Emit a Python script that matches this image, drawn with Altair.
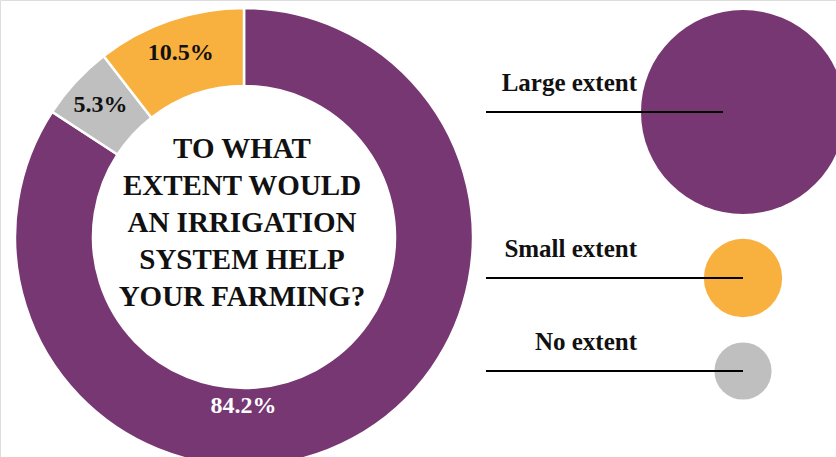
import altair as alt
import pandas as pd

# ---- data ----
categories = ["Large extent", "No extent", "Small extent"]
values = [84.2, 5.3, 10.5]
pct_labels = ["84.2%", "5.3%", "10.5%"]
colors = ["#773772", "#BFBFBF", "#F8B03F"]
question_lines = ["TO WHAT", "EXTENT WOULD", "AN IRRIGATION", "SYSTEM HELP", "YOUR FARMING?"]
legend_order = ["Large extent", "Small extent", "No extent"]

df = pd.DataFrame({
    "category": categories,
    "value": values,
    "label": pct_labels,
    "order": list(range(len(categories))),
})
df["outer_label"] = [l if c != "Large extent" else "" for c, l in zip(categories, pct_labels)]
df["inner_label"] = [l if c == "Large extent" else "" for c, l in zip(categories, pct_labels)]

# ---- layout (pixels) ----
CX, CY = 244, 237
R_OUT, R_IN = 229, 151
FONT = "Liberation Serif"

color_scale = alt.Scale(domain=categories, range=colors)
base = alt.Chart(df)

theta = alt.Theta("value:Q", stack=True)
order = alt.Order("order:Q")

donut = base.mark_arc(radius=R_OUT, radius2=R_IN, stroke="white", strokeWidth=2.5).encode(
    theta=theta,
    order=order,
    color=alt.Color("category:N", scale=color_scale, legend=None),
    x=alt.value(CX), y=alt.value(CY),
)

outer_txt = base.mark_text(radius=195, font=FONT, fontWeight="bold", fontSize=24,
                           color="#111111", align="center", baseline="middle").encode(
    theta=theta, order=order, text="outer_label:N",
    x=alt.value(CX), y=alt.value(CY),
)

inner_txt = base.mark_text(radius=190, dx=-91, dy=2, font=FONT, fontWeight="bold", fontSize=24,
                           color="white", align="center", baseline="middle").encode(
    theta=theta, order=order, text="inner_label:N",
    x=alt.value(CX), y=alt.value(CY),
)

question = alt.Chart(pd.DataFrame({"t": [0]})).mark_text(
    text=question_lines, font=FONT, fontWeight="bold", fontSize=29, lineHeight=37,
    align="center", baseline="middle", color="#111111",
).encode(x=alt.value(242), y=alt.value(149))

# legend-like bubbles on the right
leg_y = {"Large extent": 112, "Small extent": 278, "No extent": 371}
rule_end = {"Large extent": 723, "Small extent": 743, "No extent": 743}
size_scale = alt.Scale(type="pow", exponent=0.92, domain=[0, 84.2], range=[0, 41616])

legend_layers = []
for cat in legend_order:
    sub = base.transform_filter(alt.datum.category == cat)
    legend_layers.append(
        sub.mark_circle(opacity=1).encode(
            x=alt.value(743), y=alt.value(leg_y[cat]),
            size=alt.Size("value:Q", scale=size_scale, legend=None),
            color=alt.Color("category:N", scale=color_scale, legend=None),
        )
    )
    legend_layers.append(
        sub.mark_rule(color="black", strokeWidth=2.2).encode(
            x=alt.value(486), x2=alt.value(rule_end[cat]), y=alt.value(leg_y[cat]),
        )
    )
    legend_layers.append(
        sub.mark_text(font=FONT, fontWeight="bold", fontSize=25, align="right",
                      baseline="alphabetic", color="#111111").encode(
            x=alt.value(637), y=alt.value(leg_y[cat] - 21), text="category:N",
        )
    )

chart = alt.layer(donut, outer_txt, inner_txt, question, *legend_layers).properties(
    width=836, height=457, padding=0, autosize=alt.AutoSizeParams(type="none"),
).configure_view(stroke=None).configure(background="white")

chart.save("out.html", embed_options={"renderer": "svg", "actions": False})
